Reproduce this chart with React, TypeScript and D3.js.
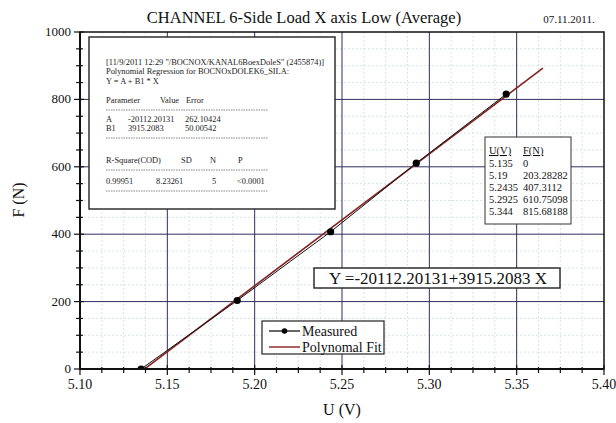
import React from "react";
import * as d3 from "d3";

// Measured calibration points
const voltage = [5.135, 5.19, 5.2435, 5.2925, 5.344];
const force = [0, 203.28282, 407.3112, 610.75098, 815.68188];
const forceLabels = ["0", "203.28282", "407.3112", "610.75098", "815.68188"];
const voltageLabels = ["5.135", "5.19", "5.2435", "5.2925", "5.344"];

// Linear fit coefficients
const fitA = -20112.20131;
const fitB = 3915.2083;
const fitRange = [5.135, 5.365];

const xTicks = [5.1, 5.15, 5.2, 5.25, 5.3, 5.35, 5.4];
const yTicks = [0, 200, 400, 600, 800, 1000];

const W = 616;
const H = 423;
const left = 80;
const right = 604;
const top = 32;
const bottom = 369;
const FONT = { fontFamily: '"Liberation Serif"' };

export default function App() {
  const x = d3.scaleLinear().domain([5.1, 5.4]).range([left, right]);
  const y = d3.scaleLinear().domain([0, 1000]).range([bottom, top]);

  const xMinor = d3.range(0, 25).map((i) => 5.1 + i * 0.0125);
  const yMinor = d3.range(0, 21).map((i) => i * 50);

  const measuredLine = d3
    .line<number>()
    .x((_, i) => x(voltage[i]))
    .y((_, i) => y(force[i]))(voltage);

  const fitLine = d3
    .line<number>()
    .x((u) => x(u))
    .y((u) => y(fitA + fitB * u))(fitRange);

  const info = { x: 89, y: 37, w: 246, h: 172 };
  const tx = 106;
  const infoFont = 8.4;

  const T = (props: any) => <text style={FONT} {...props} />;

  return (
    <svg width={W} height={H} style={{ position: "absolute", left: 0, top: 0, background: "#fff" }}>
      <defs>
        <clipPath id="plotClip">
          <rect x={left} y={top} width={right - left} height={bottom - top} />
        </clipPath>
      </defs>
      <rect width={W} height={H} fill="#fff" />

      {/* minor grid */}
      <g stroke="#cfdcdc" strokeWidth={0.8} strokeDasharray="2,2">
        {xMinor.filter((_, i) => i % 4 !== 0).map((v, i) => (
          <line key={"mx" + i} x1={x(v)} x2={x(v)} y1={top} y2={bottom} />
        ))}
        {yMinor.filter((_, i) => i % 4 !== 0).map((v, i) => (
          <line key={"my" + i} x1={left} x2={right} y1={y(v)} y2={y(v)} />
        ))}
      </g>

      {/* major grid */}
      <g stroke="#2e2e5e" strokeWidth={1}>
        {xTicks.slice(1, -1).map((v) => (
          <line key={"gx" + v} x1={x(v)} x2={x(v)} y1={top} y2={bottom} />
        ))}
        {yTicks.slice(1, -1).map((v) => (
          <line key={"gy" + v} x1={left} x2={right} y1={y(v)} y2={y(v)} />
        ))}
      </g>

      {/* data */}
      <g clipPath="url(#plotClip)">
        <path d={fitLine || ""} fill="none" stroke="#862020" strokeWidth={1.6} />
        <path d={measuredLine || ""} fill="none" stroke="#111" strokeWidth={1} />
        {voltage.map((u, i) => (
          <circle key={"p" + i} cx={x(u)} cy={y(force[i])} r={3.6} fill="#000" />
        ))}
      </g>

      {/* regression report */}
      <rect x={info.x} y={info.y} width={info.w} height={info.h} fill="#fff" stroke="#222" strokeWidth={1.4} />
      <g fontSize={infoFont} fill="#222">
        <T x={tx} y={65}>[11/9/2011 12:29 "/BOCNOX/KANAL6BoexDoleS" (2455874)]</T>
        <T x={tx} y={73.5}>Polynomial Regression for BOCNOxDOLEK6_SILA:</T>
        <T x={tx} y={84}>Y = A + B1 * X</T>
        <T x={tx} y={103}>Parameter</T>
        <T x={160} y={103}>Value</T>
        <T x={186} y={103}>Error</T>
        <T x={tx} y={122}>A</T>
        <T x={128} y={122}>-20112.20131</T>
        <T x={185} y={122}>262.10424</T>
        <T x={tx} y={130.5}>B1</T>
        <T x={128} y={130.5}>3915.2083</T>
        <T x={185} y={130.5}>50.00542</T>
        <T x={tx} y={163}>R-Square(COD)</T>
        <T x={181} y={163}>SD</T>
        <T x={210} y={163}>N</T>
        <T x={238} y={163}>P</T>
        <T x={tx} y={183.5}>0.99951</T>
        <T x={156} y={183.5}>8.23261</T>
        <T x={212} y={183.5}>5</T>
        <T x={237} y={183.5}>&lt;0.0001</T>
      </g>
      <g stroke="#555" strokeWidth={0.7} strokeDasharray="1.5,1">
        {[110, 138, 170, 191].map((ly) => (
          <line key={"d" + ly} x1={tx} x2={268} y1={ly} y2={ly} />
        ))}
      </g>

      {/* data table */}
      <rect x={485} y={137} width={86} height={87} fill="#fff" stroke="#333" strokeWidth={1} />
      <g fontSize={10.5} fill="#111">
        <T x={489} y={154} textDecoration="underline">U(V)</T>
        <T x={523} y={154} textDecoration="underline">F(N)</T>
        {voltageLabels.map((u, i) => (
          <g key={"r" + i}>
            <T x={489} y={166.5 + i * 12}>{u}</T>
            <T x={523} y={166.5 + i * 12}>{forceLabels[i]}</T>
          </g>
        ))}
      </g>

      {/* equation */}
      <rect x={314} y={268} width={246} height={20} fill="#fff" stroke="#222" strokeWidth={1.4} />
      <T x={438} y={284} fontSize={17} textAnchor="middle" fill="#111">
        Y =-20112.20131+3915.2083 X
      </T>

      {/* legend */}
      <rect x={262} y={321} width={122} height={33} fill="#fff" stroke="#222" strokeWidth={1.2} />
      <line x1={269} x2={300} y1={331} y2={331} stroke="#000" strokeWidth={1.2} />
      <circle cx={284.5} cy={331} r={2.8} fill="#000" />
      <line x1={269} x2={300} y1={347} y2={347} stroke="#862020" strokeWidth={1.4} />
      <g fontSize={14} fill="#111">
        <T x={302} y={335.5}>Measured</T>
        <T x={302} y={351.5}>Polynomal Fit</T>
      </g>

      {/* frame and axes */}
      <rect x={left} y={top} width={right - left} height={bottom - top} fill="none" stroke="#111" strokeWidth={1.5} />
      <line x1={left} x2={left} y1={top} y2={bottom + 1} stroke="#111" strokeWidth={2} />
      <line x1={left - 1} x2={right} y1={bottom} y2={bottom} stroke="#111" strokeWidth={2} />

      <g stroke="#111" strokeWidth={1.2}>
        {xTicks.map((v) => (
          <line key={"xt" + v} x1={x(v)} x2={x(v)} y1={bottom - 4} y2={bottom + 6} />
        ))}
        {xMinor.filter((_, i) => i % 4 !== 0).map((v, i) => (
          <line key={"xm" + i} x1={x(v)} x2={x(v)} y1={bottom - 2} y2={bottom + 4} />
        ))}
        {yTicks.map((v) => (
          <line key={"yt" + v} x1={left - 6} x2={left + 4} y1={y(v)} y2={y(v)} />
        ))}
        {yMinor.filter((_, i) => i % 4 !== 0).map((v, i) => (
          <line key={"ym" + i} x1={left - 4} x2={left + 3} y1={y(v)} y2={y(v)} />
        ))}
      </g>

      <g fill="#111">
        {xTicks.map((v) => (
          <T key={"xl" + v} x={x(v)} y={388.5} fontSize={14} textAnchor="middle">
            {v.toFixed(2)}
          </T>
        ))}
        {yTicks.map((v) => (
          <T key={"yl" + v} x={left - 9} y={y(v) + 4} fontSize={13} textAnchor="end">
            {v}
          </T>
        ))}
      </g>

      {/* titles */}
      <T x={304} y={23} fontSize={16.5} textAnchor="middle" fill="#111">
        CHANNEL 6-Side Load X axis Low (Average)
      </T>
      <T x={569} y={23} fontSize={11} textAnchor="middle" fill="#111">
        07.11.2011.
      </T>
      <T x={342} y={415} fontSize={16} textAnchor="middle" fill="#111">
        U (V)
      </T>
      <T transform="translate(24,200) rotate(-90)" fontSize={16} textAnchor="middle" fill="#111">
        F (N)
      </T>
    </svg>
  );
}
